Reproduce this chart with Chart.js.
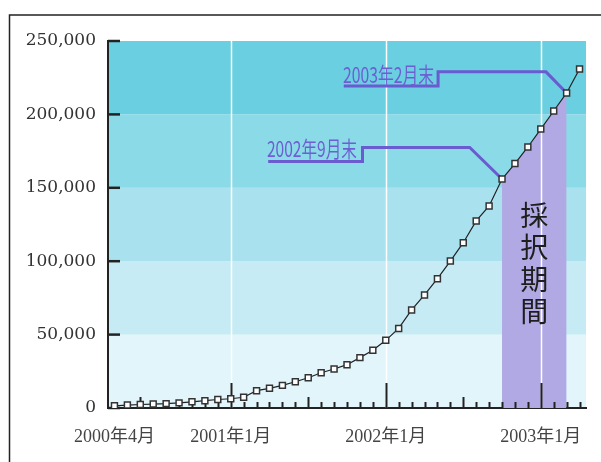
<!DOCTYPE html>
<html>
<head>
<meta charset="utf-8">
<script src="https://cdn.jsdelivr.net/npm/chart.js@4.4.1/dist/chart.umd.min.js"></script>
<style>
html,body{margin:0;padding:0;background:#fff;}
</style>
</head>
<body>
<canvas id="c" width="601" height="462"></canvas>
<script>
// months, 2000/4 .. 2003/4
const months = [
  '2000年4月','2000年5月','2000年6月','2000年7月','2000年8月','2000年9月','2000年10月','2000年11月','2000年12月',
  '2001年1月','2001年2月','2001年3月','2001年4月','2001年5月','2001年6月','2001年7月','2001年8月','2001年9月',
  '2001年10月','2001年11月','2001年12月',
  '2002年1月','2002年2月','2002年3月','2002年4月','2002年5月','2002年6月','2002年7月','2002年8月','2002年9月',
  '2002年10月','2002年11月','2002年12月',
  '2003年1月','2003年2月','2003年3月','2003年4月'
];
const values = [
  1500, 2000, 2400, 2700, 3000, 3500, 4200, 5000, 5800,
  6300, 7300, 11800, 13400, 15400, 17900, 20600, 24000, 26600,
  29500, 34300, 39300,
  46100, 54200, 66800, 77000, 88100, 100100, 112600, 127400, 137600,
  156000, 166500, 177800,
  190000, 202300, 214600, 230900
];
const tickLabels = ['2000年4月','2001年1月','2002年1月','2003年1月'];
const yTicks = [0, 50000, 100000, 150000, 200000, 250000];
const bandColors = ['#e1f5fa','#c6ebf4','#a9e2ee','#8bdae7','#69cfe1'];
const yearMarks = ['2001年1月','2002年1月','2003年1月'];
const midMarks = ['2000年6月','2001年7月','2002年7月'];
const period = ['2002年10月','2003年3月'];
const periodText = ['採','択','期','間'];

const pStart = months.indexOf(period[0]);
const pEnd = months.indexOf(period[1]);
const periodValues = values.map((v, i) => (i >= pStart && i <= pEnd) ? v : null);

// callouts: path in (month index, value) units
const callouts = [
  { text: '2002年9月末', tx: 11.8, ty: 176400, w: 90,
    path: [[11.9, 168000], [19.2, 168000], [19.2, 177500], [27.5, 177500], [pStart, values[pStart]]] },
  { text: '2003年2月末', tx: 17.7, ty: 226800, w: 91,
    path: [[17.75, 219300], [25.05, 219300], [25.05, 229000], [33.4, 229000], [pEnd, values[pEnd]]] }
];

const decor = {
  id: 'decor',
  beforeDraw(chart) {
    const {ctx, chartArea: a, scales: {y}} = chart;
    ctx.save();
    for (let i = 0; i < bandColors.length; i++) {
      const y0 = y.getPixelForValue(yTicks[i]);
      const y1 = y.getPixelForValue(yTicks[i + 1]);
      ctx.fillStyle = bandColors[i];
      ctx.fillRect(a.left, y1, a.right - a.left, y0 - y1);
    }
    // frame
    ctx.strokeStyle = '#222';
    ctx.lineWidth = 1.5;
    ctx.beginPath();
    ctx.moveTo(9.5, 462);
    ctx.lineTo(9.5, 15);
    ctx.lineTo(601, 15);
    ctx.stroke();
    ctx.restore();
  },
  afterDatasetDraw(chart, args) {
    if (args.index !== 1) return;
    const {ctx, chartArea: a, scales: {x, y}} = chart;
    ctx.save();
    // white year lines
    ctx.strokeStyle = '#ffffff';
    ctx.lineWidth = 1.5;
    yearMarks.forEach(m => {
      const px = Math.round(x.getPixelForValue(months.indexOf(m))) + 0.5;
      ctx.beginPath();
      ctx.moveTo(px, a.top);
      ctx.lineTo(px, a.bottom);
      ctx.stroke();
    });
    // ticks on x axis, pointing up
    ctx.strokeStyle = '#222';
    ctx.lineWidth = 2;
    months.forEach((m, i) => {
      const px = Math.round(x.getPixelForValue(i)) + 0.5;
      let len = 6;
      if (yearMarks.includes(m)) len = 25;
      else if (midMarks.includes(m)) len = 11;
      ctx.beginPath();
      ctx.moveTo(px, a.bottom);
      ctx.lineTo(px, a.bottom - len);
      ctx.stroke();
    });
    // ticks on y axis, pointing right
    ctx.lineWidth = 2.5;
    yTicks.forEach(v => {
      const py = y.getPixelForValue(v);
      ctx.beginPath();
      ctx.moveTo(a.left, py);
      ctx.lineTo(a.left + 12, py);
      ctx.stroke();
    });
    // period label
    ctx.fillStyle = '#1e1e1e';
    ctx.font = "28px 'Noto Sans CJK JP'";
    ctx.textAlign = 'center';
    ctx.textBaseline = 'middle';
    const cx = x.getPixelForValue((pStart + pEnd) / 2);
    const cy0 = y.getPixelForValue(131500);
    const step = y.getPixelForValue(131500) - y.getPixelForValue(153300);
    periodText.forEach((ch, i) => ctx.fillText(ch, cx, cy0 + i * step));
    // callouts
    ctx.strokeStyle = '#6a5bd0';
    ctx.fillStyle = '#6d5fd2';
    ctx.lineWidth = 3;
    ctx.lineJoin = 'miter';
    ctx.font = "22px 'Noto Sans CJK JP'";
    ctx.textAlign = 'left';
    callouts.forEach(c => {
      ctx.beginPath();
      c.path.forEach((p, i) => {
        const px = x.getPixelForValue(p[0]);
        const py = y.getPixelForValue(p[1]);
        if (i === 0) ctx.moveTo(px, py); else ctx.lineTo(px, py);
      });
      ctx.stroke();
      ctx.fillText(c.text, x.getPixelForValue(c.tx), y.getPixelForValue(c.ty), c.w);
    });
    ctx.restore();
  }
};

new Chart(document.getElementById('c'), {
  type: 'line',
  data: {
    labels: months,
    datasets: [
      {
        data: values,
        borderColor: '#222',
        borderWidth: 1.2,
        pointStyle: 'rect',
        pointRadius: 4.2,
        pointBorderWidth: 1.5,
        pointBorderColor: '#333',
        pointBackgroundColor: '#ffffff',
        tension: 0,
        fill: false
      },
      {
        data: periodValues,
        borderWidth: 0,
        borderColor: 'rgba(0,0,0,0)',
        backgroundColor: '#b0a9e4',
        pointRadius: 0,
        fill: 'origin',
        spanGaps: false
      }
    ]
  },
  options: {
    responsive: false,
    animation: false,
    layout: { padding: { top: 41, right: 15, left: 0, bottom: 0 } },
    plugins: { legend: { display: false }, tooltip: { enabled: false } },
    scales: {
      x: {
        type: 'category',
        offset: true,
        grid: { display: false },
        border: { color: '#222', width: 2 },
        ticks: {
          autoSkip: false,
          maxRotation: 0,
          padding: 10,
          color: '#444',
          font: { family: "'Liberation Serif', 'Noto Sans CJK JP'", size: 18 },
          callback: (v, i) => tickLabels.includes(months[i]) ? months[i] : ''
        },
        afterFit: s => { s.height = 54; }
      },
      y: {
        min: 0,
        max: 250000,
        grid: { display: false },
        border: { color: '#222', width: 2 },
        afterBuildTicks: s => { s.ticks = yTicks.map(v => ({ value: v })); },
        ticks: {
          padding: 4,
          color: '#333',
          font: { family: "'DejaVu Serif'", size: 17 },
          callback: v => v.toLocaleString('en-US')
        },
        afterFit: s => { s.width = 108; }
      }
    }
  },
  plugins: [decor]
});
</script>
</body>
</html>
